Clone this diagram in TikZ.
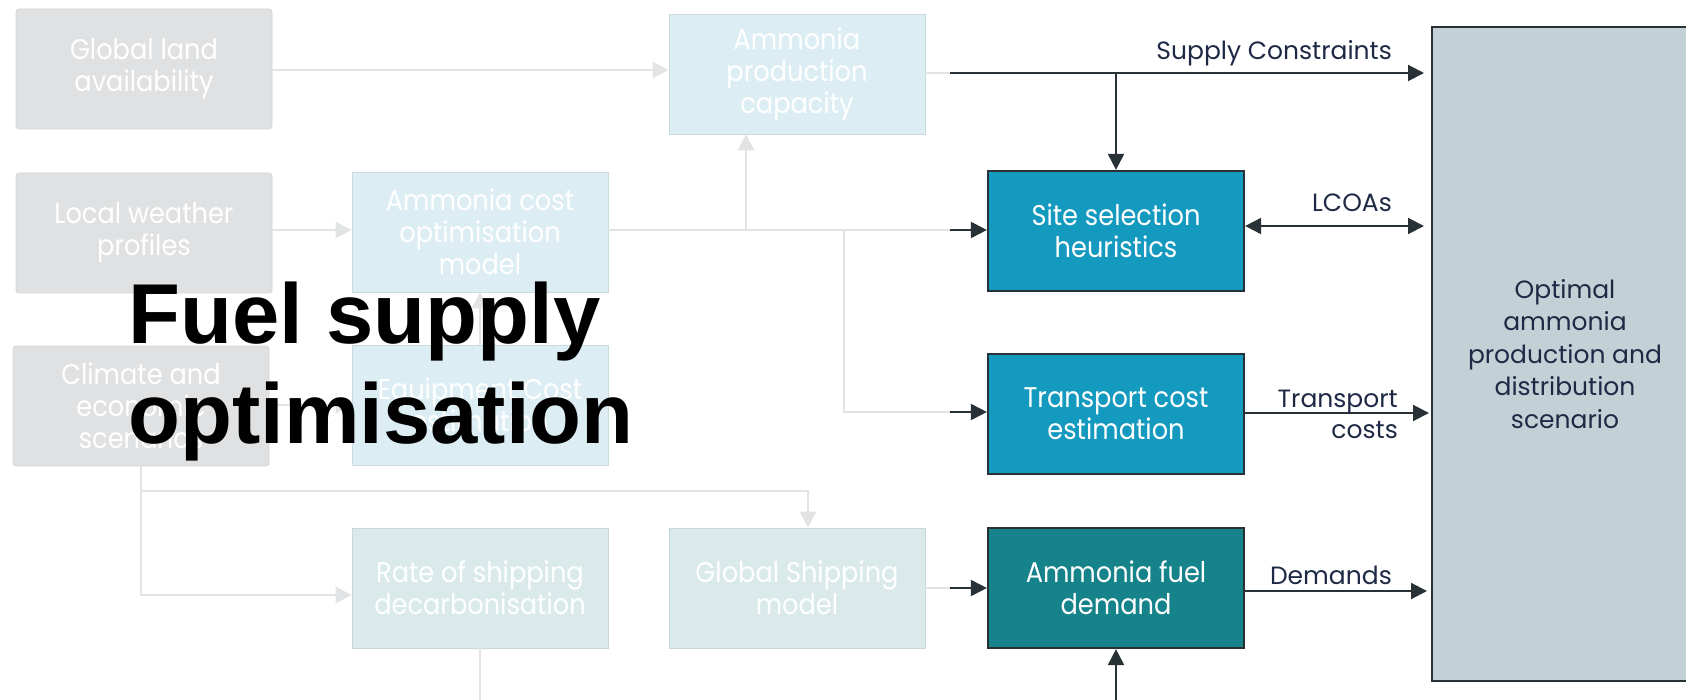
\documentclass[tikz,border=0pt]{standalone}
\usepackage{fontspec}
\setmainfont{Poppins}
\newfontfamily\boxfont[FakeStretch=0.9]{Poppins}
\newfontfamily\lblfont{Poppins}
\newfontfamily\titlefont{Liberation Sans}
\usetikzlibrary{arrows.meta,calc}

\definecolor{inGrey}{HTML}{E0E1E3}
\definecolor{inBlue}{HTML}{DCEEF4}
\definecolor{inTeal}{HTML}{DAEAEB}
\definecolor{faint}{HTML}{E2E3E4}
\definecolor{siteBlue}{HTML}{1499BF}
\definecolor{demTeal}{HTML}{16828A}
\definecolor{optGrey}{HTML}{C3D0D5}
\definecolor{ink}{HTML}{283236}
\definecolor{navy}{HTML}{1E2A45}

\begin{document}
\begin{tikzpicture}[x=1pt,y=-1pt,
  box/.style={rectangle, minimum width=256pt, minimum height=120pt, inner sep=0pt,
    align=center, text=white, font=\boxfont\fontsize{28.5}{32}\selectfont},
  greybox/.style={box, fill=inGrey, draw=inGrey!95!black, line width=0.8pt, rounded corners=3pt},
  bluebox/.style={box, fill=inBlue, draw=inBlue!92!black, line width=0.8pt},
  tealbox/.style={box, fill=inTeal, draw=inTeal!92!black, line width=0.8pt},
  keybox/.style={box, draw=ink, line width=2.2pt},
  optbox/.style={rectangle, fill=optGrey, draw=ink, line width=2pt, inner sep=0pt,
    minimum width=266pt, minimum height=654pt, align=center, text=navy,
    font=\lblfont\fontsize{25}{32.5}\selectfont},
  lbl/.style={inner sep=0pt, text=navy, font=\lblfont\fontsize{25}{31}\selectfont},
  faintline/.style={draw=faint, line width=2.6pt},
  faintarrow/.style={faintline, -{Triangle[length=16pt,width=16pt]}},
  darkline/.style={draw=ink, line width=2pt},
  darkarrow/.style={darkline, -{Triangle[length=16pt,width=16pt]}},
  title/.style={inner sep=0pt, text=black, font=\titlefont\bfseries\fontsize{85}{100}\selectfont}
]
\path[use as bounding box, fill=white] (0,0) rectangle (1686,700);
\clip (0,0) rectangle (1686,700);

% input data boxes
\node[greybox] (gla) at (144,69)  {Global land\\availability};
\node[greybox] (lwp) at (144,233) {Local weather\\profiles};
\node[greybox] (ces) at (141,406) {Climate and\\economic\\scenarios};

% intermediate models
\node[bluebox] (apc) at (797,74)  {Ammonia\\production\\capacity};
\node[bluebox] (aco) at (480,232) {Ammonia cost\\optimisation\\model};
\node[bluebox] (ece) at (480,405) {Equipment Cost\\estimation};
\node[tealbox] (rsd) at (480,588) {Rate of shipping\\decarbonisation};
\node[tealbox] (gsm) at (797,588) {Global Shipping\\model};

% supply optimisation stages
\node[keybox, fill=siteBlue] (ssh) at (1116,231) {Site selection\\heuristics};
\node[keybox, fill=siteBlue] (tce) at (1116,414) {Transport cost\\estimation};
\node[keybox, fill=demTeal]  (afd) at (1116,588) {Ammonia fuel\\demand};

% output scenario
\node[optbox] (opt) at (1565,354) {Optimal\\ammonia\\production and\\distribution\\scenario};

% faint input connectors
\draw[faintarrow] (gla.east |- 0,70) -- (apc.west |- 0,70);
\draw[faintarrow] (lwp.east |- 0,230) -- (aco.west |- 0,230);
\draw[faintarrow] (ces.east |- 0,405) -- (ece.west |- 0,405);
\draw[faintarrow] (ece.north) -- (aco.south);
\draw[faintarrow] (ces.south) |- (rsd.west |- 0,595);
\draw[faintarrow] (ces.south |- 0,491) -| ($(gsm.north)+(11,0)$);
\draw[faintline] (rsd.south) -- (rsd.south |- 0,710);

% cost model outputs
\coordinate (jUp) at (746,230);
\coordinate (jDown) at (844,230);
\coordinate (sA) at (950,230);
\coordinate (sB) at (950,412);
\draw[faintline] (aco.east |- sA) -- (sA);
\draw[faintarrow] (jUp) -- (jUp |- apc.south);
\draw[faintline] (jDown) |- (sB);
\draw[darkarrow] (sA) -- (ssh.west |- sA);
\draw[darkarrow] (sB) -- (tce.west |- sB);

% production capacity -> supply constraints
\coordinate (sC) at (950,73);
\draw[faintline] (apc.east |- sC) -- (sC);
\draw[darkarrow, shorten >=7pt] (sC) -- (opt.west |- sC);
\draw[darkarrow] (ssh.north |- sC) -- (ssh.north);

% shipping model -> fuel demand
\coordinate (sD) at (950,588);
\draw[faintline] (gsm.east |- sD) -- (sD);
\draw[darkarrow] (sD) -- (afd.west |- sD);
\draw[darkarrow] (afd.south |- 0,710) -- (afd.south);

% stage outputs
\draw[darkline, {Triangle[length=16pt,width=16pt]}-{Triangle[length=16pt,width=16pt]}, shorten >=7pt]
  (ssh.east |- 0,226) -- (opt.west |- 0,226);
\draw[darkarrow, shorten >=2pt] (tce.east |- 0,413) -- (opt.west |- 0,413);
\draw[darkarrow, shorten >=4pt] (afd.east |- 0,591) -- (opt.west |- 0,591);

\node[lbl, anchor=base east] (lsup) at (1392,60)  {Supply Constraints};
\node[lbl, anchor=base east] (llco) at (1392,212) {LCOAs};
\node[lbl, anchor=east, align=right] (ltra) at (1398,414) {Transport\\costs};
\node[lbl, anchor=base east] (ldem) at (1392,584) {Demands};

% overlaid heading
\node[title, anchor=base west] (t1) at (128,344) {Fuel supply};
\node[title, anchor=base west] (t2) at (128,443) {optimisation};
\end{tikzpicture}
\end{document}
